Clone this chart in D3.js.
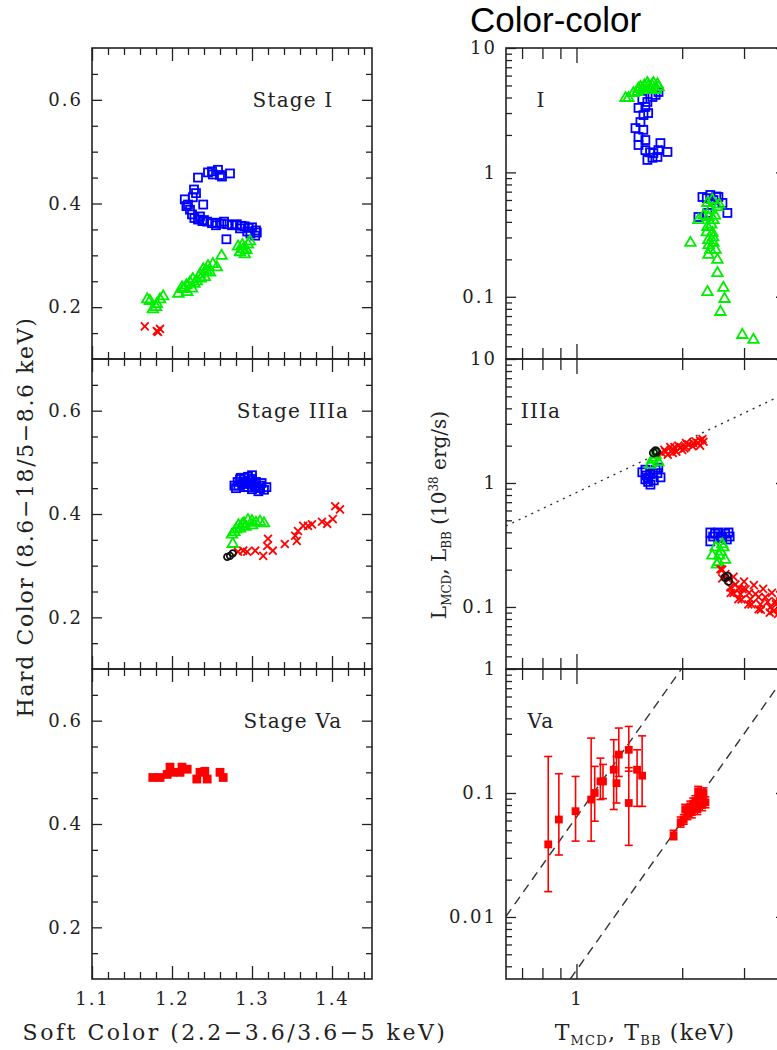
<html>
<head>
<script src="https://d3js.org/d3.v7.min.js"></script>
<style>
  body{margin:0;background:#fff}
  svg{display:block;font-family:"DejaVu Serif",serif}
  .tick text{font-size:18px;letter-spacing:2px;fill:#222;font-family:"DejaVu Serif",serif}
  .tick line{stroke:#222;stroke-width:1.3}
</style>
</head>
<body>
<script>
// ---------- left column: colour-colour (soft, hard) ----------
var stageIBlue = [[1.2325,0.450],[1.245,0.460],[1.251,0.456],[1.2575,0.465],[1.26,0.455],[1.2625,0.452],[1.2725,0.458],[1.25,0.462],
  [1.2275,0.427],[1.226,0.412],[1.23,0.420],[1.216,0.408],[1.22,0.398],[1.2225,0.388],[1.218,0.395],[1.239,0.398],
  [1.225,0.379],[1.228,0.372],[1.2325,0.369],[1.238,0.366],[1.244,0.365],[1.25,0.362],[1.256,0.363],[1.262,0.361],
  [1.269,0.360],[1.275,0.358],[1.281,0.360],[1.287,0.357],[1.291,0.356],[1.296,0.353],[1.30,0.354],[1.305,0.348],
  [1.306,0.344],[1.304,0.338],[1.298,0.342],[1.268,0.331],[1.235,0.375],[1.24,0.368],[1.255,0.358],[1.265,0.365],
  [1.285,0.352],[1.294,0.346]];
var stageIGreen = [[1.2825,0.317],[1.289,0.312],[1.295,0.321],[1.291,0.302],[1.285,0.306],[1.2975,0.327],[1.293,0.310],
  [1.288,0.320],[1.262,0.299],[1.214,0.235],[1.2225,0.248],[1.226,0.254],[1.235,0.263],[1.239,0.273],[1.245,0.279],
  [1.251,0.283],[1.256,0.277],[1.2475,0.267],[1.231,0.250],[1.219,0.229],[1.2125,0.238],[1.241,0.258],[1.218,0.242],
  [1.228,0.245],[1.236,0.255],[1.225,0.236],[1.243,0.270],[1.208,0.226],[1.1725,0.212],[1.181,0.206],[1.189,0.221],
  [1.176,0.196],[1.185,0.215],[1.169,0.215],[1.18,0.200]];
var stageIRed = [[1.166,0.163],[1.181,0.154],[1.185,0.158],[1.1825,0.152]];

var stageIIIaBlue = [[1.278,0.455],[1.282,0.462],[1.285,0.467],[1.29,0.470],[1.295,0.472],[1.30,0.468],[1.305,0.462],
  [1.31,0.455],[1.315,0.447],[1.308,0.444],[1.30,0.448],[1.295,0.452],[1.288,0.458],[1.292,0.463],[1.30,0.458],
  [1.312,0.46],[1.318,0.452],[1.28,0.45],[1.305,0.452],[1.296,0.46],[1.283,0.455],[1.29,0.46],[1.298,0.465],
  [1.303,0.455],[1.31,0.45],[1.29,0.452],[1.286,0.47],[1.3,0.475]];
var stageIIIaGreen = [[1.275,0.360],[1.28,0.370],[1.283,0.378],[1.29,0.382],[1.295,0.388],[1.30,0.386],[1.305,0.383],
  [1.31,0.385],[1.315,0.382],[1.285,0.372],[1.292,0.375],[1.30,0.378],[1.278,0.365],[1.288,0.38],[1.276,0.342]];
var stageIIIaBlack = [[1.269,0.317],[1.2725,0.319],[1.276,0.324]];
var stageIIIaRed = [[1.2825,0.327],[1.289,0.329],[1.294,0.327],[1.304,0.329],[1.314,0.319],[1.32,0.352],[1.319,0.338],
  [1.326,0.329],[1.341,0.342],[1.354,0.358],[1.356,0.348],[1.3575,0.367],[1.364,0.377],[1.37,0.377],[1.375,0.38],
  [1.3875,0.385],[1.394,0.381],[1.401,0.39],[1.404,0.415],[1.41,0.409]];

var stageVaRed = [[1.176,0.49],[1.185,0.49],[1.194,0.496],[1.1975,0.51],[1.201,0.5],[1.21,0.5],[1.2125,0.51],
  [1.219,0.506],[1.231,0.487],[1.235,0.5],[1.241,0.502],[1.244,0.487],[1.26,0.5],[1.264,0.49]];

// ---------- right column: luminosity vs temperature ----------
var lumIGreen = [[1.379,3.96],[1.406,3.96],[1.453,4.34],[1.492,4.43],[1.521,4.85],[1.552,4.59],[1.592,5.23],[1.624,4.77],
  [1.656,5.23],[1.712,4.85],[1.56,5.0],[1.64,5.0],[1.5,4.7],[1.68,4.6],[1.6,4.9],[1.7,5.1],
  [2.36,0.568],[2.437,0.6],[2.52,0.527],[2.225,0.414],[2.375,0.438],[2.455,0.414],[2.36,0.364],[2.437,0.326],
  [2.375,0.286],[2.455,0.271],[2.405,0.238],[2.49,0.238],[2.375,0.217],[2.52,0.198],[2.52,0.155],[2.111,0.271],
  [2.36,0.109],[2.62,0.118],[2.64,0.096],[2.57,0.0755],[2.966,0.0493],[3.19,0.045],[2.4,0.5],[2.48,0.45],
  [2.42,0.38],[2.35,0.33],[2.45,0.3],[2.38,0.26],[2.55,0.55],[2.3,0.45]];
var lumIBlue = [[1.712,4.43],[1.646,4.04],[1.592,3.68],[1.571,3.36],[1.502,3.30],[1.552,2.89],[1.521,2.54],[1.472,2.27],
  [1.502,1.93],[1.571,1.82],[1.502,1.66],[1.571,1.51],[1.592,1.26],[1.646,1.31],[1.70,1.33],[1.734,1.72],
  [1.816,1.46],[1.656,1.43],[1.712,1.51],[1.6,3.0],[1.55,2.2],[1.62,1.45],[1.68,4.2],[1.54,3.9],
  [2.284,0.634],[2.405,0.658],[2.536,0.634],[2.69,0.472],[2.225,0.438],[2.36,0.472],[2.604,0.568],[2.455,0.60],
  [2.5,0.64],[2.35,0.62]];

var lumIIIaBlue = [[1.571,1.28],[1.624,1.18],[1.68,1.28],[1.571,1.07],[1.735,1.11],[1.624,0.97],[1.54,1.22],[1.71,1.33],
  [1.6,1.1],[1.66,1.05],[1.58,1.15],[1.65,1.2],[1.7,1.2],[1.6,1.02],
  [2.405,0.399],[2.536,0.399],[2.71,0.399],[2.405,0.338],[2.57,0.37],[2.73,0.37],[2.45,0.37],[2.65,0.39],
  [2.48,0.39],[2.6,0.36],[2.68,0.35]];
var lumIIIaGreen = [[1.646,1.54],[1.68,1.69],[1.624,1.40],[1.71,1.47],[1.66,1.6],
  [2.49,0.303],[2.57,0.28],[2.437,0.26],[2.65,0.24],[2.536,0.23],[2.62,0.303],[2.51,0.22],[2.6,0.32],[2.55,0.26]];
var lumIIIaBlack = [[1.68,1.82],[1.656,1.75],[1.69,1.78],[2.69,0.177],[2.71,0.161],[2.65,0.173]];
var lumIIIaRed = [[1.792,1.79],[1.876,1.86],[1.977,1.93],[2.084,2.05],[2.18,2.17],[2.284,2.26],[1.82,1.69],[1.925,1.79],
  [2.03,1.90],[2.14,1.98],[2.22,2.10],[1.75,1.75],[2.25,2.0],[2.05,2.1],[1.9,1.95],[1.78,1.85],[1.85,1.95],
  [1.95,2.0],[2.05,1.95],[2.15,2.1],[2.25,2.2],[2.3,2.15],[2.0,1.85],[1.88,1.75],
  [2.57,0.2014],[2.655,0.184],[2.708,0.167],[2.743,0.144],[2.836,0.152],[2.89,0.1156],[2.93,0.127],[2.97,0.139],
  [3.03,0.139],[3.087,0.105],[3.126,0.1156],[3.233,0.127],[3.3,0.096],[3.34,0.105],[3.45,0.12],[3.567,0.0995],
  [3.637,0.0927],[3.686,0.111],[3.8,0.1],[2.6,0.17],[2.8,0.13],[2.6,0.2],[2.8,0.175],[3.0,0.16],[3.2,0.15],
  [3.4,0.14],[3.6,0.13],[3.8,0.125],[2.75,0.13],[2.95,0.115],[3.15,0.105],[3.35,0.095],[3.55,0.09],[3.75,0.088],
  [2.9,0.14],[3.1,0.13],[3.3,0.12],[3.5,0.11],[3.7,0.105]];
var lumIIIaDotted = [[0.63,0.45],[3.95,5.3]];

// [T, L, L low, L high]
var lumVaRed = [[0.831,0.0385,0.016,0.197],[0.891,0.0611,0.0316,0.143],[0.994,0.0713,0.0409,0.136],
  [1.101,0.0885,0.0409,0.277],[1.127,0.100,0.0592,0.164],[1.17,0.124,0.0885,0.191],[1.19,0.124,0.09,0.17],
  [1.277,0.154,0.0736,0.269],[1.30,0.12,0.083,0.197],[1.32,0.204,0.136,0.334],[1.409,0.223,0.15,0.344],
  [1.409,0.083,0.0378,0.16],[1.488,0.154,0.078,0.223],[1.538,0.138,0.078,0.289],
  [1.89,0.0456,0.042,0.050],[1.98,0.058,0.053,0.064],[2.02,0.061,0.056,0.067],[2.07,0.067,0.061,0.074],
  [2.04,0.074,0.067,0.081],[2.11,0.078,0.071,0.086],[2.15,0.082,0.074,0.091],[2.18,0.086,0.078,0.095],
  [2.21,0.074,0.067,0.082],[2.25,0.094,0.085,0.104],[2.28,0.080,0.072,0.088],[2.30,0.100,0.091,0.110],
  [2.33,0.084,0.076,0.093],[2.13,0.070,0.063,0.077],[2.22,0.103,0.093,0.113]];
var lumVaDashA = [[0.63,0.0101],[2.0,1.02]];
var lumVaDashB = [[0.96,0.00316],[3.95,0.90]];

// ticks
var softMajor = [1.1,1.2,1.3,1.4];
var softMinor = [1.12,1.14,1.16,1.18,1.22,1.24,1.26,1.28,1.32,1.34,1.36,1.38,1.42,1.44];
var hardMajor = [0.2,0.4,0.6];
var hardMinor = [0.15,0.25,0.3,0.35,0.45,0.5,0.55,0.65];
var tMajor = [1];
var tMinor = [0.7,0.8,0.9,2,3];
var stageNames = ["Stage I","Stage IIIa","Stage Va"];
var lumNames = ["I","IIIa","Va"];

var W = 777, H = 1050;
var rows = [[48,359],[359,669],[669,979]];
var leftRange = [92,372], rightRange = [506,786];
var red = "#ff0000", green = "#00ee00", blue = "#0000ff";

var svg = d3.select("body").append("svg").attr("width",W).attr("height",H);

function logTicks(dom){
  var maj = [], min = [];
  for (var e = -3; e <= 1; e++) {
    var p = Math.pow(10,e);
    if (p >= dom[0]*0.999 && p <= dom[1]*1.001) maj.push(p);
    for (var m = 2; m <= 9; m++) { var v = m*p; if (v > dom[0] && v < dom[1]) min.push(v); }
  }
  return [maj,min];
}

function axes(g, x, y, o){
  var yb = y.range()[0], yt = y.range()[1], xl = x.range()[0], xr = x.range()[1];
  var parts = [
    [d3.axisBottom(x).tickValues(o.xMaj).tickSize(-o.xLen[0]).tickPadding(13).tickFormat(o.xLab ? o.xFmt : ""), yb, 0],
    [d3.axisBottom(x).tickValues(o.xMin).tickSize(-o.xLen[1]).tickFormat(""), yb, 0],
    [d3.axisTop(x).tickValues(o.xMaj).tickSize(-o.xLen[0]).tickFormat(""), yt, 0],
    [d3.axisTop(x).tickValues(o.xMin).tickSize(-o.xLen[1]).tickFormat(""), yt, 0],
    [d3.axisLeft(y).tickValues(o.yMaj).tickSize(-o.yLen[0]).tickPadding(9).tickFormat(o.yFmt), 0, xl],
    [d3.axisLeft(y).tickValues(o.yMin).tickSize(-o.yLen[1]).tickFormat(""), 0, xl],
    [d3.axisRight(y).tickValues(o.yMaj).tickSize(-o.yLen[0]).tickFormat(""), 0, xr],
    [d3.axisRight(y).tickValues(o.yMin).tickSize(-o.yLen[1]).tickFormat(""), 0, xr]
  ];
  parts.forEach(function(p){
    var a = g.append("g").attr("transform","translate(" + p[2] + "," + p[1] + ")").call(p[0]);
    a.select(".domain").remove();
  });
  g.append("rect").attr("x",xl).attr("y",yt).attr("width",xr-xl).attr("height",yb-yt)
   .attr("fill","none").attr("stroke","#222").attr("stroke-width",1.6);
}

function squares(g, data, x, y, col, filled, s){
  g.selectAll(null).data(data).enter().append("rect")
   .attr("x",function(d){return x(d[0])-s/2}).attr("y",function(d){return y(d[1])-s/2})
   .attr("width",s).attr("height",s)
   .attr("fill",filled ? col : "none").attr("stroke",col).attr("stroke-width",1.8);
}
function symbols(g, data, x, y, col, type, size){
  g.selectAll(null).data(data).enter().append("path")
   .attr("d",d3.symbol().type(type).size(size))
   .attr("transform",function(d){return "translate(" + x(d[0]) + "," + y(d[1]) + ")"})
   .attr("fill","none").attr("stroke",col).attr("stroke-width",1.8);
}
function line(g, data, x, y, dash){
  g.append("path").datum(data)
   .attr("d",d3.line().x(function(d){return x(d[0])}).y(function(d){return y(d[1])}))
   .attr("fill","none").attr("stroke","#333").attr("stroke-width",1.4).attr("stroke-dasharray",dash);
}

// ---------- left column ----------
var xSoft = d3.scaleLinear().domain([1.1,1.45]).range(leftRange);
var leftSets = [
  {blue:stageIBlue, green:stageIGreen, red:stageIRed, black:[]},
  {blue:stageIIIaBlue, green:stageIIIaGreen, red:stageIIIaRed, black:stageIIIaBlack},
  {blue:[], green:[], red:[], black:[], filled:stageVaRed}
];
rows.forEach(function(r,i){
  var y = d3.scaleLinear().domain([0.1,0.7]).range([r[1],r[0]]);
  var g = svg.append("g");
  var s = leftSets[i];
  squares(g, s.blue, xSoft, y, blue, false, 8);
  symbols(g, s.green, xSoft, y, green, d3.symbolTriangle, 48);
  symbols(g, s.red, xSoft, y, red, d3.symbolTimes, 42);
  symbols(g, s.black, xSoft, y, "#111", d3.symbolCircle, 32);
  if (s.filled) squares(g, s.filled, xSoft, y, red, true, 7);
  axes(g, xSoft, y, {xMaj:softMajor, xMin:softMinor, xLen:[13,7], xLab:i==2, xFmt:d3.format(".1f"),
    yMaj:hardMajor, yMin:hardMinor, yLen:[10,6], yFmt:d3.format(".1f")});
  g.append("text").attr("x",293).attr("y",y(0.6)+7).attr("text-anchor","middle")
   .style("font-size","20px").style("letter-spacing","1.2px").attr("fill","#222").text(stageNames[i]);
});

// ---------- right column ----------
var xT = d3.scaleLog().domain([0.63,3.95]).range(rightRange);
var lumDomains = [[0.0316,10],[0.0316,10],[0.00316,1]];
rows.forEach(function(r,i){
  var y = d3.scaleLog().domain(lumDomains[i]).range([r[1],r[0]]);
  var g = svg.append("g");
  var cid = "clip" + i;
  g.append("clipPath").attr("id",cid).append("rect")
   .attr("x",rightRange[0]).attr("y",r[0]).attr("width",rightRange[1]-rightRange[0]).attr("height",r[1]-r[0]);
  var pg = g.append("g").attr("clip-path","url(#" + cid + ")");
  if (i == 0) {
    squares(pg, lumIBlue, xT, y, blue, false, 8);
    symbols(pg, lumIGreen, xT, y, green, d3.symbolTriangle, 48);
  } else if (i == 1) {
    line(pg, lumIIIaDotted, xT, y, "2,5");
    squares(pg, lumIIIaBlue, xT, y, blue, false, 8);
    symbols(pg, lumIIIaGreen, xT, y, green, d3.symbolTriangle, 48);
    symbols(pg, lumIIIaRed, xT, y, red, d3.symbolTimes, 42);
    symbols(pg, lumIIIaBlack, xT, y, "#111", d3.symbolCircle, 42);
  } else {
    line(pg, lumVaDashA, xT, y, "9,6");
    line(pg, lumVaDashB, xT, y, "9,6");
    var eb = pg.selectAll(null).data(lumVaRed).enter().append("g").attr("stroke",red).attr("stroke-width",1.6);
    eb.append("line").attr("x1",function(d){return xT(d[0])}).attr("x2",function(d){return xT(d[0])})
      .attr("y1",function(d){return y(d[2])}).attr("y2",function(d){return y(d[3])});
    [2,3].forEach(function(k){
      eb.append("line").attr("x1",function(d){return xT(d[0])-4}).attr("x2",function(d){return xT(d[0])+4})
        .attr("y1",function(d){return y(d[k])}).attr("y2",function(d){return y(d[k])});
    });
    squares(pg, lumVaRed, xT, y, red, true, 6);
  }
  var lt = logTicks(lumDomains[i]);
  axes(g, xT, y, {xMaj:tMajor, xMin:tMinor, xLen:[15,11], xLab:i==2, xFmt:function(d){return d},
    yMaj:lt[0], yMin:lt[1], yLen:[10,6], yFmt:function(d){return d}});
  g.append("text").attr("x",541).attr("y",r[0]+59).attr("text-anchor","middle")
   .style("font-size","20px").style("letter-spacing","1.2px").attr("fill","#222").text(lumNames[i]);
});

// ---------- titles ----------
svg.append("text").attr("x",470).attr("y",32).style("font-family","'Liberation Sans',Arial,sans-serif")
  .style("font-size","35px").attr("fill","#000").text("Color-color");

svg.append("text").attr("transform","translate(33,517) rotate(-90)").attr("text-anchor","middle")
  .style("font-size","22px").style("letter-spacing","1.6px").attr("fill","#222")
  .text("Hard Color (8.6\u221218/5\u22128.6 keV)");
svg.append("text").attr("x",235).attr("y",1040).attr("text-anchor","middle")
  .style("font-size","22px").style("letter-spacing","2.5px").attr("fill","#222")
  .text("Soft Color (2.2\u22123.6/3.6\u22125 keV)");

var ly = svg.append("text").attr("transform","translate(446,515) rotate(-90)").attr("text-anchor","middle")
  .style("font-size","20px").attr("fill","#222");
ly.append("tspan").text("L");
ly.append("tspan").attr("dy",5).style("font-size","12px").text("MCD");
ly.append("tspan").attr("dy",-5).text(", L");
ly.append("tspan").attr("dy",5).style("font-size","12px").text("BB");
ly.append("tspan").attr("dy",-5).text(" (10");
ly.append("tspan").attr("dy",-8).style("font-size","12px").text("38");
ly.append("tspan").attr("dy",8).text(" erg/s)");

var lx = svg.append("text").attr("x",645).attr("y",1040).attr("text-anchor","middle")
  .style("font-size","22px").style("letter-spacing","1.2px").attr("fill","#222");
lx.append("tspan").text("T");
lx.append("tspan").attr("dy",5).style("font-size","13px").text("MCD");
lx.append("tspan").attr("dy",-5).text(", T");
lx.append("tspan").attr("dy",5).style("font-size","13px").text("BB");
lx.append("tspan").attr("dy",-5).text(" (keV)");
</script>
</body>
</html>
